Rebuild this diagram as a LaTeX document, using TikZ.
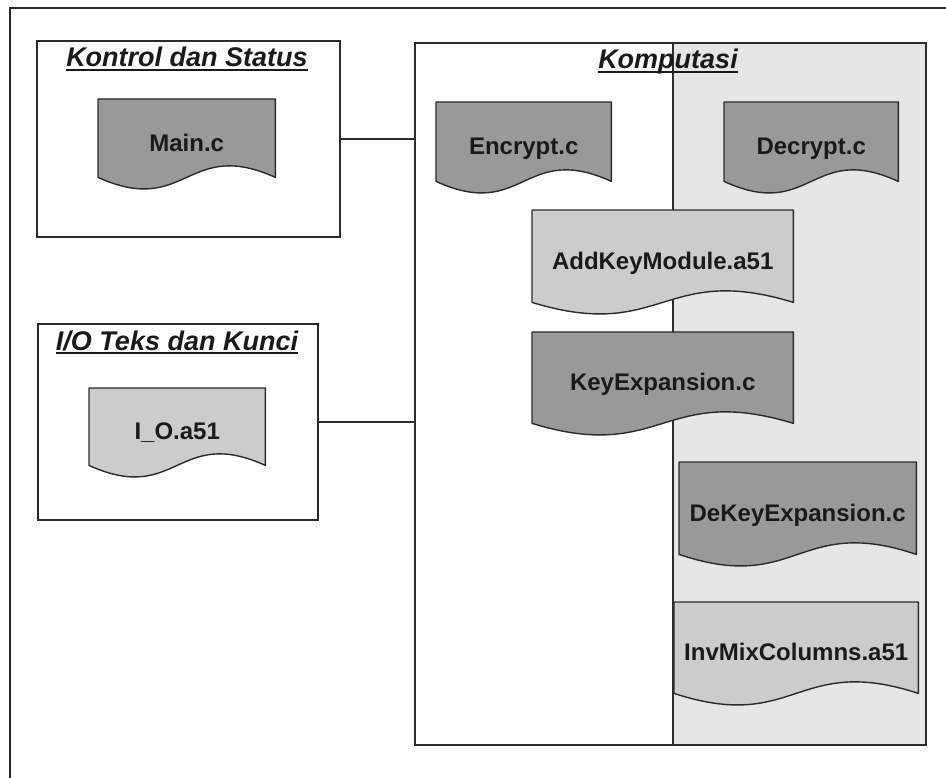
\documentclass[tikz,border=0pt]{standalone}
\usepackage{fontspec}
\setmainfont{Liberation Sans}
\usetikzlibrary{calc}
\pgfdeclarelayer{bg}
\pgfdeclarelayer{docs}
\pgfsetlayers{bg,docs,main}
\definecolor{dk}{HTML}{999999}
\definecolor{lt}{HTML}{CCCCCC}
\definecolor{pan}{HTML}{E6E6E6}
\definecolor{ln}{HTML}{2B2B2B}
\definecolor{tx}{HTML}{1A1A1A}
\tikzset{
  box/.style={draw=ln, line width=1.6pt, inner sep=0pt, anchor=north west},
  doclabel/.style={inner sep=0pt, anchor=north west, text=tx,
    font=\fontsize{24}{28}\selectfont\bfseries, text height=26pt, text depth=0pt},
  title/.style={inner sep=0pt, anchor=base, text=tx,
    font=\fontsize{27}{32}\selectfont\bfseries\itshape},
  docline/.style={draw=ln, line width=1.4pt, line join=round},
  conn/.style={draw=ln, line width=1.6pt},
  frame/.style={draw=ln, line width=2.2pt},
}
\newcommand\docshape[2]{\path[docline, fill=#2] (#1.north west) -- (#1.north east) -- (#1.south east)
  .. controls ([yshift=40pt]#1.south) and ([yshift=-40pt]#1.south) .. (#1.south west) -- cycle;}
\newcommand\titlerule[1]{\draw[tx, line width=2pt] ([yshift=-3pt]#1.base west) -- ([yshift=-3pt]#1.base east);}
\begin{document}
\begin{tikzpicture}[x=1pt, y=-1pt]
\useasboundingbox (0,0) rectangle (946,778);
\coordinate (fbl) at (10,778);
\coordinate (ftl) at (10,8);
\coordinate (ftr) at (946,8);
\begin{pgfonlayer}{bg}
  \fill[white] (0,0) rectangle (946,778);
  \draw[frame] (fbl) -- (ftl) -- (ftr);
  % group boxes
  \node[box, minimum width=303pt, minimum height=196pt] (kontrol) at (36,40) {};
  \node[box, minimum width=280pt, minimum height=196pt] (io) at (37,323) {};
  \node[box, fill=pan, minimum width=253pt, minimum height=702pt] (kright) at (672,42) {};
  \node[box, minimum width=511pt, minimum height=702pt] (komp) at (414,42) {};
  % connectors
  \draw[conn] (kontrol.east) -- (kontrol.east -| komp.west);
  \draw[conn] (io.east) -- (io.east -| komp.west);
\end{pgfonlayer}
% titles
\node[title] (t1) at (187,67) {Kontrol dan Status};
\node[title] (t2) at (177,350) {I/O Teks dan Kunci};
\node[title] (t3) at (668,69) {Komputasi};
\titlerule{t1}
\titlerule{t2}
\titlerule{t3}
% document nodes
\node[doclabel, minimum width=177pt, minimum height=78pt] (main) at (98,99) {Main.c};
\node[doclabel, minimum width=176pt, minimum height=77pt] (ioa) at (89,388) {I\_O.a51};
\node[doclabel, minimum width=175pt, minimum height=79pt] (enc) at (436,102) {Encrypt.c};
\node[doclabel, minimum width=174pt, minimum height=79pt] (dec) at (724,102) {Decrypt.c};
\node[doclabel, minimum width=261pt, minimum height=92pt] (addkey) at (532,210) {AddKeyModule.a51};
\node[doclabel, minimum width=261pt, minimum height=91pt] (keyexp) at (532,332) {KeyExpansion.c};
\node[doclabel, minimum width=237pt, minimum height=92pt] (dekey) at (679,462) {DeKeyExpansion.c};
\node[doclabel, minimum width=244pt, minimum height=91pt] (invmix) at (674,602) {InvMixColumns.a51};
\begin{pgfonlayer}{docs}
  \docshape{main}{dk}
  \docshape{ioa}{lt}
  \docshape{enc}{dk}
  \docshape{dec}{dk}
  \docshape{addkey}{lt}
  \docshape{keyexp}{dk}
  \docshape{dekey}{dk}
  \docshape{invmix}{lt}
\end{pgfonlayer}
\end{tikzpicture}
\end{document}
